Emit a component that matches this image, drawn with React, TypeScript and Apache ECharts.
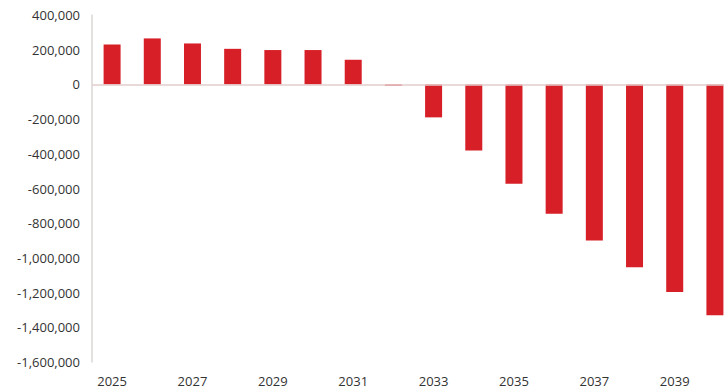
import React, { useEffect, useRef } from "react";
import * as echarts from "echarts";

const years = ["2025","2026","2027","2028","2029","2030","2031","2032","2033","2034","2035","2036","2037","2038","2039","2040"];
const values = [230000, 265000, 236000, 205000, 198000, 198000, 142000, -8000, -190000, -381000, -573000, -746000, -900000, -1054000, -1196000, -1331000];

export default function App() {
  const ref = useRef<HTMLDivElement>(null);
  useEffect(() => {
    if (!ref.current) return;
    const chart = echarts.init(ref.current, null, { renderer: "svg" });
    chart.setOption({
      animation: false,
      backgroundColor: "#ffffff",
      grid: { left: 92, width: 643, top: 15, height: 347 },
      xAxis: {
        type: "category",
        data: years,
        axisLine: { show: false },
        axisTick: { show: false },
        axisLabel: {
          interval: 1,
          margin: 12,
          color: "#333333",
          fontFamily: "Open Sans",
          fontSize: 13,
        },
      },
      yAxis: {
        type: "value",
        min: -1600000,
        max: 400000,
        interval: 200000,
        axisLine: { show: true, lineStyle: { color: "#ddd6d6", width: 1.5 } },
        axisTick: { show: false },
        splitLine: { show: false },
        axisLabel: {
          margin: 12,
          color: "#333333",
          fontFamily: "Open Sans",
          fontSize: 13,
          formatter: (v: number) => v.toLocaleString("en-US"),
        },
      },
      series: [
        {
          type: "bar",
          data: values,
          barWidth: 17,
          itemStyle: { color: "#d71f27" },
          markLine: {
            silent: true,
            symbol: ["none", "none"],
            label: { show: false },
            lineStyle: { color: "#e3cccc", type: "solid", width: 1.5 },
            data: [{ yAxis: 0 }],
          },
        },
      ],
    });
    return () => chart.dispose();
  }, []);
  return (
    <div style={{ width: 724, height: 392, position: "absolute", left: 0, top: 0, overflow: "hidden", background: "#fff" }}>
      <div ref={ref} style={{ width: 745, height: 392 }} />
    </div>
  );
}
